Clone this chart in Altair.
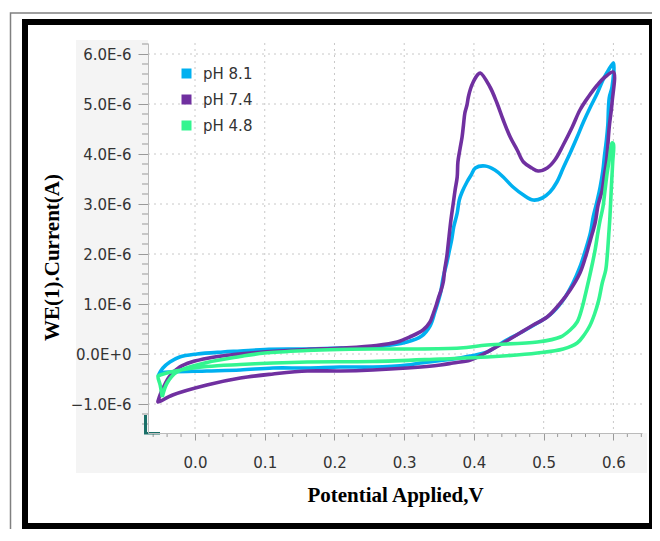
import altair as alt
import pandas as pd

series_names = ["pH 8.1", "pH 7.4", "pH 4.8"]
series_colors = ["#00b0f0", "#7030a0", "#33f590"]

# pH 8.1 loop: potential (V) and current (µA)
ph81_v = [-0.053, -0.046, -0.036, -0.022, 0.003, 0.04, 0.065, 0.10, 0.16, 0.21, 0.255, 0.304, 0.325, 0.337,
          0.344, 0.352, 0.356, 0.361, 0.365, 0.368, 0.371, 0.376, 0.379, 0.383, 0.390, 0.396, 0.402, 0.416,
          0.430, 0.442, 0.456, 0.471, 0.485, 0.498, 0.509, 0.519, 0.528, 0.538, 0.548, 0.557, 0.567, 0.577,
          0.585, 0.593, 0.600,
          0.598, 0.594, 0.592, 0.590, 0.587, 0.585, 0.581, 0.577, 0.571, 0.567, 0.560, 0.552, 0.542, 0.528,
          0.509, 0.491, 0.466, 0.442, 0.419, 0.395, 0.380, 0.323, 0.304, 0.255, 0.208, 0.161, 0.112, 0.065,
          0.017, -0.032, -0.047, -0.053]
ph81_i = [-0.44, -0.28, -0.16, -0.06, 0.0, 0.04, 0.06, 0.09, 0.10, 0.12, 0.14, 0.24, 0.36, 0.56,
          0.84, 1.22, 1.54, 1.82, 2.08, 2.28, 2.54, 2.82, 3.08, 3.24, 3.44, 3.58, 3.72, 3.76,
          3.68, 3.54, 3.34, 3.18, 3.08, 3.12, 3.24, 3.44, 3.72, 4.02, 4.34, 4.64, 4.94, 5.22,
          5.48, 5.68, 5.82,
          5.34, 5.12, 4.58, 4.28, 3.94, 3.68, 3.34, 3.08, 2.74, 2.42, 2.08, 1.74, 1.42, 1.08,
          0.78, 0.62, 0.42, 0.24, 0.04, -0.04, -0.08, -0.18, -0.22, -0.26, -0.26, -0.28, -0.28, -0.32,
          -0.34, -0.36, -0.38, -0.44]

# pH 7.4 loop
ph74_v = [-0.053, -0.049, -0.043, -0.036, -0.022, -0.005, 0.02, 0.05, 0.08, 0.12, 0.16, 0.21, 0.26, 0.29,
          0.308, 0.327, 0.337, 0.342, 0.346, 0.349, 0.353, 0.356, 0.358, 0.361, 0.363, 0.367, 0.370, 0.373,
          0.376, 0.377, 0.380, 0.383, 0.385, 0.387, 0.390, 0.392, 0.395, 0.399, 0.405, 0.409, 0.423, 0.433,
          0.442, 0.452, 0.462, 0.471, 0.483, 0.492, 0.505, 0.516, 0.528, 0.541, 0.552, 0.564, 0.577, 0.588,
          0.600,
          0.598, 0.594, 0.590, 0.587, 0.584, 0.578, 0.574, 0.567, 0.560, 0.552, 0.538, 0.524, 0.505, 0.485,
          0.466, 0.442, 0.419, 0.395, 0.370, 0.352, 0.304, 0.255, 0.208, 0.161, 0.112, 0.065, 0.017, -0.032,
          -0.053]
ph74_i = [-0.94, -0.78, -0.60, -0.44, -0.26, -0.16, -0.08, -0.02, 0.02, 0.06, 0.09, 0.12, 0.17, 0.24,
          0.34, 0.48, 0.64, 0.82, 0.98, 1.12, 1.28, 1.44, 1.68, 1.94, 2.18, 2.68, 2.98, 3.28,
          3.54, 3.84, 4.10, 4.34, 4.58, 4.82, 4.98, 5.14, 5.30, 5.44, 5.58, 5.62, 5.34, 5.02,
          4.68, 4.34, 4.08, 3.84, 3.72, 3.66, 3.72, 3.88, 4.18, 4.54, 4.88, 5.14, 5.38, 5.54,
          5.64,
          5.02, 4.54, 3.84, 3.58, 3.28, 2.98, 2.64, 2.28, 1.94, 1.62, 1.28, 1.02, 0.74, 0.58,
          0.42, 0.22, 0.04, -0.12, -0.18, -0.22, -0.28, -0.32, -0.34, -0.34, -0.40, -0.48, -0.62, -0.82,
          -0.96]

# pH 4.8 loop
ph48_v = [-0.047, -0.040, -0.026, 0.017, 0.065, 0.10, 0.161, 0.208, 0.255, 0.304, 0.38, 0.419, 0.491,
          0.524, 0.538, 0.548, 0.555, 0.560, 0.565, 0.570, 0.574, 0.578, 0.581, 0.585, 0.588, 0.591,
          0.594, 0.598, 0.600,
          0.599, 0.597, 0.595, 0.593, 0.591, 0.589, 0.584, 0.579, 0.573, 0.566, 0.558, 0.548, 0.528,
          0.491, 0.419, 0.352, 0.255, 0.161, 0.112, 0.065, 0.017, -0.032, -0.050, -0.053, -0.050]
ph48_i = [-0.86, -0.58, -0.36, -0.17, -0.05, 0.02, 0.07, 0.09, 0.10, 0.10, 0.12, 0.18, 0.24,
          0.34, 0.48, 0.64, 0.92, 1.20, 1.50, 1.82, 2.10, 2.45, 2.68, 2.94, 3.28, 3.62,
          3.88, 4.22, 4.20,
          3.84, 3.32, 2.74, 2.32, 1.94, 1.68, 1.42, 1.08, 0.80, 0.56, 0.38, 0.22, 0.10,
          0.02, -0.06, -0.10, -0.15, -0.16, -0.18, -0.21, -0.25, -0.35, -0.42, -0.44, -0.62]

x_major = [0.0, 0.1, 0.2, 0.3, 0.4, 0.5, 0.6]
x_minor = [-0.06, -0.04, -0.02, 0.02, 0.04, 0.06, 0.08, 0.12, 0.14, 0.16, 0.18, 0.22, 0.24, 0.26, 0.28,
           0.32, 0.34, 0.36, 0.38, 0.42, 0.44, 0.46, 0.48, 0.52, 0.54, 0.56, 0.58, 0.62, 0.64]
y_major_uA = [-1, 0, 1, 2, 3, 4, 5, 6]
y_minor_uA = [-1.4, -1.2, -0.8, -0.6, -0.4, -0.2, 0.2, 0.4, 0.6, 0.8, 1.2, 1.4, 1.6, 1.8, 2.2, 2.4, 2.6,
              2.8, 3.2, 3.4, 3.6, 3.8, 4.2, 4.4, 4.6, 4.8, 5.2, 5.4, 5.6, 5.8, 6.2]

x_domain = [-0.0674, 0.641]
y_domain = [-1.58e-6, 6.22e-6]

rows = []
for name, vs, cs in zip(series_names, [ph81_v, ph74_v, ph48_v], [ph81_i, ph74_i, ph48_i]):
    pts = list(zip(vs, cs)) + [(vs[0], cs[0])]
    for k, (v, c) in enumerate(pts):
        rows.append({"series": name, "potential": v, "current": c * 1e-6, "order": k})
df = pd.DataFrame(rows)

xscale = alt.Scale(domain=x_domain, nice=False, zero=False)
yscale = alt.Scale(domain=y_domain, nice=False, zero=False)

LABEL_FONT = "DejaVu Sans"
TITLE_FONT = "Liberation Serif"

x_axis = alt.Axis(values=x_major, format=".1f", tickSize=7, tickColor="#999999", domainColor="#bbbbbb",
                  labelFont=LABEL_FONT, labelFontSize=15, labelColor="#333333", labelPadding=15,
                  title="Potential Applied,V", titleFont=TITLE_FONT, titleFontSize=21,
                  titleFontWeight="bold", titleColor="black", titlePadding=14, grid=False, zindex=1)
y_axis = alt.Axis(values=[v * 1e-6 for v in y_major_uA],
                  labelExpr="datum.value == 0 ? '0.0E+0' : format(datum.value * 1e6, '.1f') + 'E-6'",
                  tickSize=10, tickColor="#999999", domainColor="#bbbbbb",
                  labelFont=LABEL_FONT, labelFontSize=15, labelColor="#333333", labelPadding=7,
                  title="WE(1).Current(A)", titleFont=TITLE_FONT, titleFontSize=21,
                  titleFontWeight="bold", titleColor="black", titlePadding=8, titleY=214,
                  grid=False, zindex=1)

one = alt.Data(values=[{}])

# light grey axis band
band_left = alt.Chart(one).mark_rect(color="#f4f4f4").encode(
    x=alt.value(-72), x2=alt.value(0), y=alt.value(-3), y2=alt.value(430))
band_bottom = alt.Chart(one).mark_rect(color="#f4f4f4").encode(
    x=alt.value(-72), x2=alt.value(499), y=alt.value(390), y2=alt.value(430))

gridx = alt.Chart(pd.DataFrame({"potential": x_major})).mark_rule(
    color="#c8c8c8", strokeDash=[2, 4], strokeWidth=1).encode(
    x=alt.X("potential:Q", scale=xscale, axis=x_axis))
gridy = alt.Chart(pd.DataFrame({"current": [v * 1e-6 for v in y_major_uA]})).mark_rule(
    color="#c8c8c8", strokeDash=[2, 4], strokeWidth=1).encode(
    y=alt.Y("current:Q", scale=yscale, axis=y_axis))

minor_x = alt.Chart(pd.DataFrame({"potential": x_minor})).mark_rule(color="#999999", strokeWidth=1).encode(
    x=alt.X("potential:Q", scale=xscale, axis=x_axis), y=alt.value(390), y2=alt.value(394))
minor_y = alt.Chart(pd.DataFrame({"current": [v * 1e-6 for v in y_minor_uA]})).mark_rule(
    color="#999999", strokeWidth=1).encode(
    y=alt.Y("current:Q", scale=yscale, axis=y_axis), x=alt.value(-6), x2=alt.value(0))


def curve(name, col):
    return alt.Chart(df).transform_filter(alt.datum.series == name).mark_line(
        strokeWidth=3.6, interpolate="catmull-rom", color=col).encode(
        x=alt.X("potential:Q", scale=xscale, axis=x_axis),
        y=alt.Y("current:Q", scale=yscale, axis=y_axis),
        order="order:Q",
    )


lines = [curve(n, c) for n, c in zip(series_names, series_colors)]

# legend carrier (no visible points: filtered to nothing, domain is explicit)
legend_layer = alt.Chart(df).transform_filter("datum.order < 0").mark_square(size=100, filled=True, opacity=1).encode(
    x=alt.X("potential:Q", scale=xscale, axis=x_axis),
    y=alt.Y("current:Q", scale=yscale, axis=y_axis),
    color=alt.Color("series:N", scale=alt.Scale(domain=series_names, range=series_colors),
                    legend=alt.Legend(title=None, orient="none", legendX=31, legendY=23, symbolType="square",
                                      symbolSize=100, symbolStrokeWidth=0, labelFont=LABEL_FONT,
                                      labelFontSize=15, labelColor="#333333", rowPadding=10, labelOffset=9,
                                      padding=0)),
)

teal_v = alt.Chart(one).mark_rect(color="#1a7068").encode(
    x=alt.value(-4), x2=alt.value(-1), y=alt.value(372), y2=alt.value(390))
teal_h = alt.Chart(one).mark_rect(color="#1a7068").encode(
    x=alt.value(-4), x2=alt.value(12), y=alt.value(389), y2=alt.value(391.5))

outer_line = alt.Chart(one).mark_rect(fill="white", fillOpacity=0, stroke="#808080", strokeWidth=1.5).encode(
    x=alt.value(-137.5), x2=alt.value(600), y=alt.value(-30), y2=alt.value(600))
frame = alt.Chart(one).mark_rect(fill="white", fillOpacity=0, stroke="black", strokeWidth=6).encode(
    x=alt.value(-123), x2=alt.value(504), y=alt.value(-21), y2=alt.value(483))

chart = alt.layer(band_left, band_bottom, gridx, gridy, minor_x, minor_y, *lines, legend_layer, teal_v, teal_h,
                  outer_line, frame).properties(
    width=494, height=390,
    autosize=alt.AutoSizeParams(type="none"),
    padding={"left": 140, "top": 35, "right": 10, "bottom": 96},
    background="white",
).configure_view(strokeWidth=0)

chart.save("out.html", embed_options={"renderer": "svg", "actions": False})
